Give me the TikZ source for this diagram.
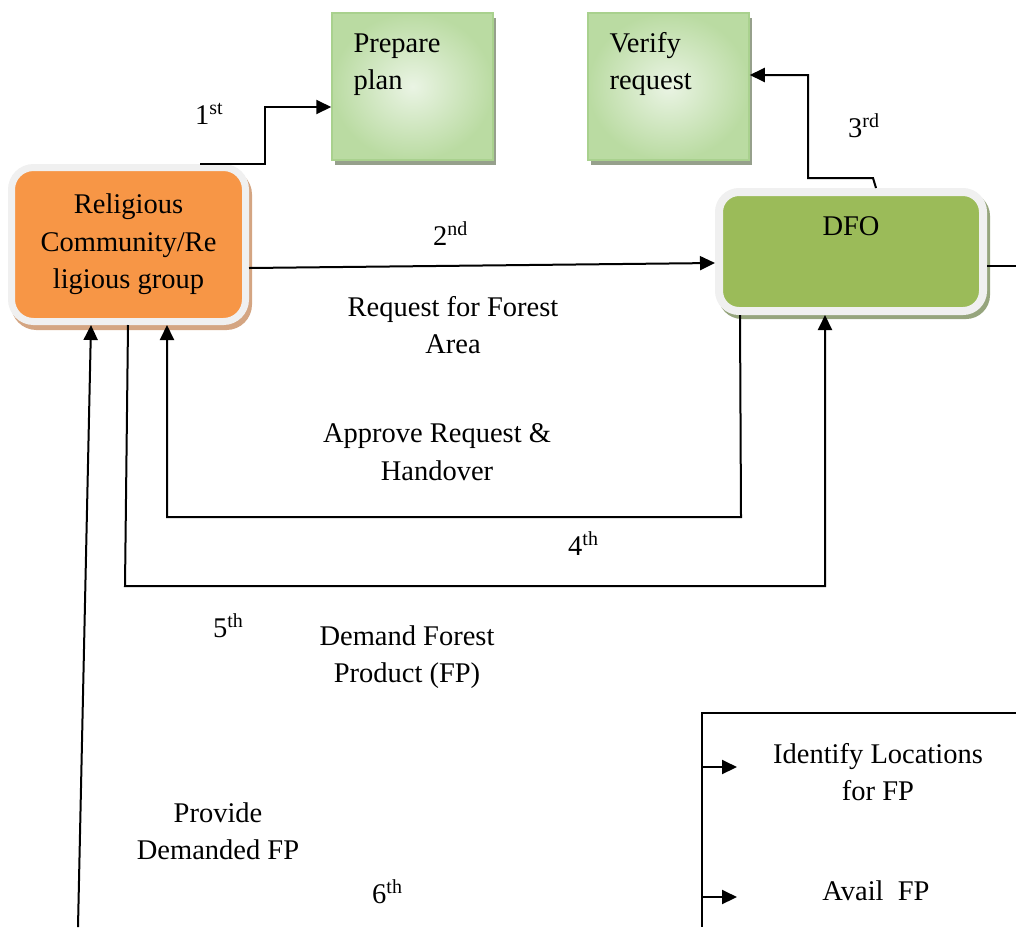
\documentclass[tikz,border=0pt]{standalone}
\usepackage{fontspec}
\setmainfont{Liberation Serif}
\usetikzlibrary{arrows.meta,calc,positioning,shadows}
\definecolor{planedge}{RGB}{169,209,142}
\definecolor{planlight}{RGB}{234,244,228}
\definecolor{planmid}{RGB}{186,219,162}
\definecolor{planshadow}{RGB}{150,160,140}
\definecolor{rimgrey}{RGB}{240,240,240}
\definecolor{roleorange}{RGB}{247,150,70}
\definecolor{roleshadow}{RGB}{212,165,130}
\definecolor{dfogreen}{RGB}{155,187,89}
\definecolor{dfoshadow}{RGB}{150,165,125}
\tikzset{%
	planbox/.style   = {draw=planedge, line width=1.5pt, inner color=planlight, outer color=planmid, minimum width=161pt, minimum height=147pt, text height=20pt, text depth=89pt, drop shadow={shadow xshift=3pt, shadow yshift=-5pt, fill=planshadow, opacity=1}},
	rolebox/.style   = {draw=rimgrey, line width=7pt, fill=roleorange, rounded corners=22pt, minimum width=234pt, minimum height=154pt, align=center, drop shadow={shadow xshift=3pt, shadow yshift=-5pt, draw=roleshadow, fill=roleshadow, line width=7pt, opacity=1}},
	officebox/.style = {draw=rimgrey, line width=8pt, fill=dfogreen, rounded corners=20pt, minimum width=264pt, minimum height=119pt, text height=20pt, text depth=53pt, drop shadow={shadow xshift=3pt, shadow yshift=-4pt, draw=dfoshadow, fill=dfoshadow, line width=8pt, opacity=1}},
	note/.style      = {inner sep=0pt, align=center},
	line/.style      = {line width=2pt},
	arrow/.style     = {line width=2pt, -{Triangle[length=15pt,width=14pt]}},
}

\begin{document}
\begin{tikzpicture}[x=1pt,y=-1pt,font=\fontsize{28.5}{37.5}\selectfont]
	\useasboundingbox (0,0) rectangle (1016,927);
	
	% boxes
	\node[planbox] (plan) at (412.5,86.5) {\parbox[t]{118pt}{Prepare\\plan}};
	\node[planbox] (verify) at (668.5,86.5) {\parbox[t]{118pt}{Verify\\request}};
	\node[rolebox] (relig) at (128.5,244.5) {Religious\\Community/Re\\ligious group};
	\node[officebox] (dfo) at (851,251.5) {DFO};
	
	% steps and notes
	\node[note, anchor=base west] (first) at (195,124) {1\textsuperscript{st}};
	\node[note, anchor=base west] (second) at (433,245) {2\textsuperscript{nd}};
	\node[note, anchor=base west] (third) at (848,137) {3\textsuperscript{rd}};
	\node[note, anchor=base west] (fourth) at (568,555) {4\textsuperscript{th}};
	\node[note, anchor=base west] (fifth) at (213,637) {5\textsuperscript{th}};
	\node[note, anchor=base west] (sixth) at (372,903) {6\textsuperscript{th}};
	
	\node[note] (request) at (453,325) {Request for Forest\\Area};
	\node[note] (approve) at (437,452) {Approve Request \&\\Handover};
	\node[note] (demand) at (407,657) {Demand Forest\\Product (FP)};
	\node[note] (provide) at (218,831) {Provide\\Demanded FP};
	\node[note] (identify) at (878,772) {Identify Locations\\for FP};
	\node[note, anchor=base] (avail) at (876,900) {Avail\ \ FP};
	
	% connectors
	\draw[arrow] ([xshift=71.5pt]relig.north) -- ++(65,0) |- ([yshift=-20.5pt]plan.west);
	\draw[arrow] ([yshift=-23.5pt]relig.east) -- ([yshift=-11.5pt]dfo.west);
	\draw[arrow] ([xshift=25pt]dfo.north) -- ++(-3,-10) -- ++(-65,0) |- ([yshift=11.5pt]verify.east);
	\draw[arrow] ([xshift=-111pt]dfo.south) -- ++(1,202) -| ([xshift=38.5pt]relig.south);
	\draw[arrow] ([xshift=-0.5pt]relig.south) -- ++(-3,261) -| ([xshift=-26pt]dfo.south);
	
	\coordinate (supply) at (78,927);
	\draw[arrow] (supply) -- ([xshift=-37.5pt]relig.south);
	
	\coordinate (dfoout) at (1016,266);
	\draw[line] ([yshift=-14.5pt]dfo.east) -- (dfoout);
	
	% bracket on the right
	\coordinate (brtop) at (1016,713);
	\coordinate (brcorner) at (702,713);
	\coordinate (brbottom) at (702,927);
	\draw[line] (brtop) -- (brcorner) -- (brbottom);
	\coordinate (idstart) at (702,767);
	\coordinate (idend) at (737,767);
	\coordinate (avstart) at (702,897);
	\coordinate (avend) at (737,897);
	\draw[arrow] (idstart) -- (idend);
	\draw[arrow] (avstart) -- (avend);
\end{tikzpicture}
\end{document}
